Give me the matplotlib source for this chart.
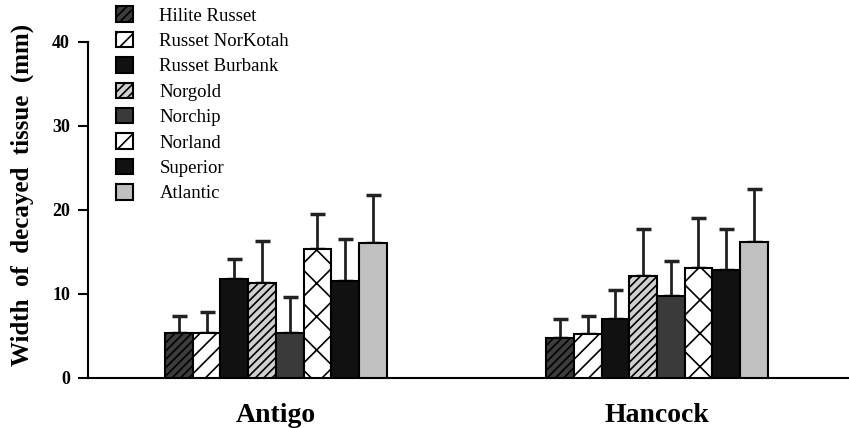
import matplotlib.pyplot as plt
import numpy as np
from matplotlib.patches import Patch

plt.rcParams['font.family'] = ['Liberation Serif', 'DejaVu Serif']
plt.rcParams['hatch.linewidth'] = 1.2

locations = ["Antigo", "Hancock"]
cultivars = ["Hilite Russet", "Russet NorKotah", "Russet Burbank", "Norgold",
             "Norchip", "Norland", "Superior", "Atlantic"]

# mean width of decayed tissue (mm), one list per location
antigo_mean = [5.4, 5.3, 11.8, 11.3, 5.3, 15.4, 11.5, 16.1]
hancock_mean = [4.8, 5.2, 7.0, 12.1, 9.8, 13.1, 12.9, 16.2]
# top of the error bar
antigo_top = [7.4, 7.9, 14.2, 16.3, 9.7, 19.5, 16.5, 21.8]
hancock_top = [7.0, 7.4, 10.5, 17.7, 13.9, 19.0, 17.7, 22.5]

faces = ["#3c3c3c", "white", "#111111", "#d0d0d0", "#3a3a3a", "white", "#111111", "#c0c0c0"]
hatches = ["////", "//", "", "////", "", "x", "", ""]

fig = plt.figure(figsize=(8.49, 4.28), dpi=100)
ax = fig.add_axes([88 / 849, 50 / 428, 1 - 88 / 849, 336 / 428])

w = 0.0727
x = np.arange(len(locations))
means = np.array([antigo_mean, hancock_mean])
tops = np.array([antigo_top, hancock_top])

for i, name in enumerate(cultivars):
    pos = x + (i - 3.5) * w
    m = means[:, i]
    err = tops[:, i] - m
    ax.bar(pos, m, width=w, color=faces[i], edgecolor="black",
           linewidth=1.5, hatch=hatches[i], zorder=3)
    ax.errorbar(pos, m, yerr=[np.zeros_like(err), err], fmt="none",
                ecolor="#222222", elinewidth=2, capsize=5.4, capthick=2.5, zorder=2)

ax.set_xlim(-0.493, 1.504)
ax.set_ylim(0, 40)
ax.set_yticks([0, 10, 20, 30, 40])
ax.set_xticks(x)
ax.set_xticklabels(locations, fontsize=20, fontweight="bold")
ax.tick_params(axis="x", length=0, pad=18)
ax.tick_params(axis="y", length=7, width=1.5, labelsize=13, pad=6)
for lab in ax.get_yticklabels():
    lab.set_fontweight("bold")
ax.spines["top"].set_visible(False)
ax.spines["right"].set_visible(False)
ax.spines["left"].set_linewidth(1.5)
ax.spines["bottom"].set_linewidth(1.5)
ax.set_ylabel("Width  of  decayed  tissue  (mm)", fontsize=18, fontweight="bold")
ax.yaxis.set_label_coords(-0.071, 0.545)

handles = [Patch(facecolor=faces[i], edgecolor="black", hatch=hatches[i], linewidth=1.5)
           for i in range(len(cultivars))]
fig.legend(handles, cultivars, loc="upper left", bbox_to_anchor=(0.137, 0.985),
           frameon=False, fontsize=13.5, handlelength=0.9, handleheight=0.9,
           labelspacing=0.38, handletextpad=1.4, borderpad=0, borderaxespad=0)

fig.savefig("out.png", dpi=100)
